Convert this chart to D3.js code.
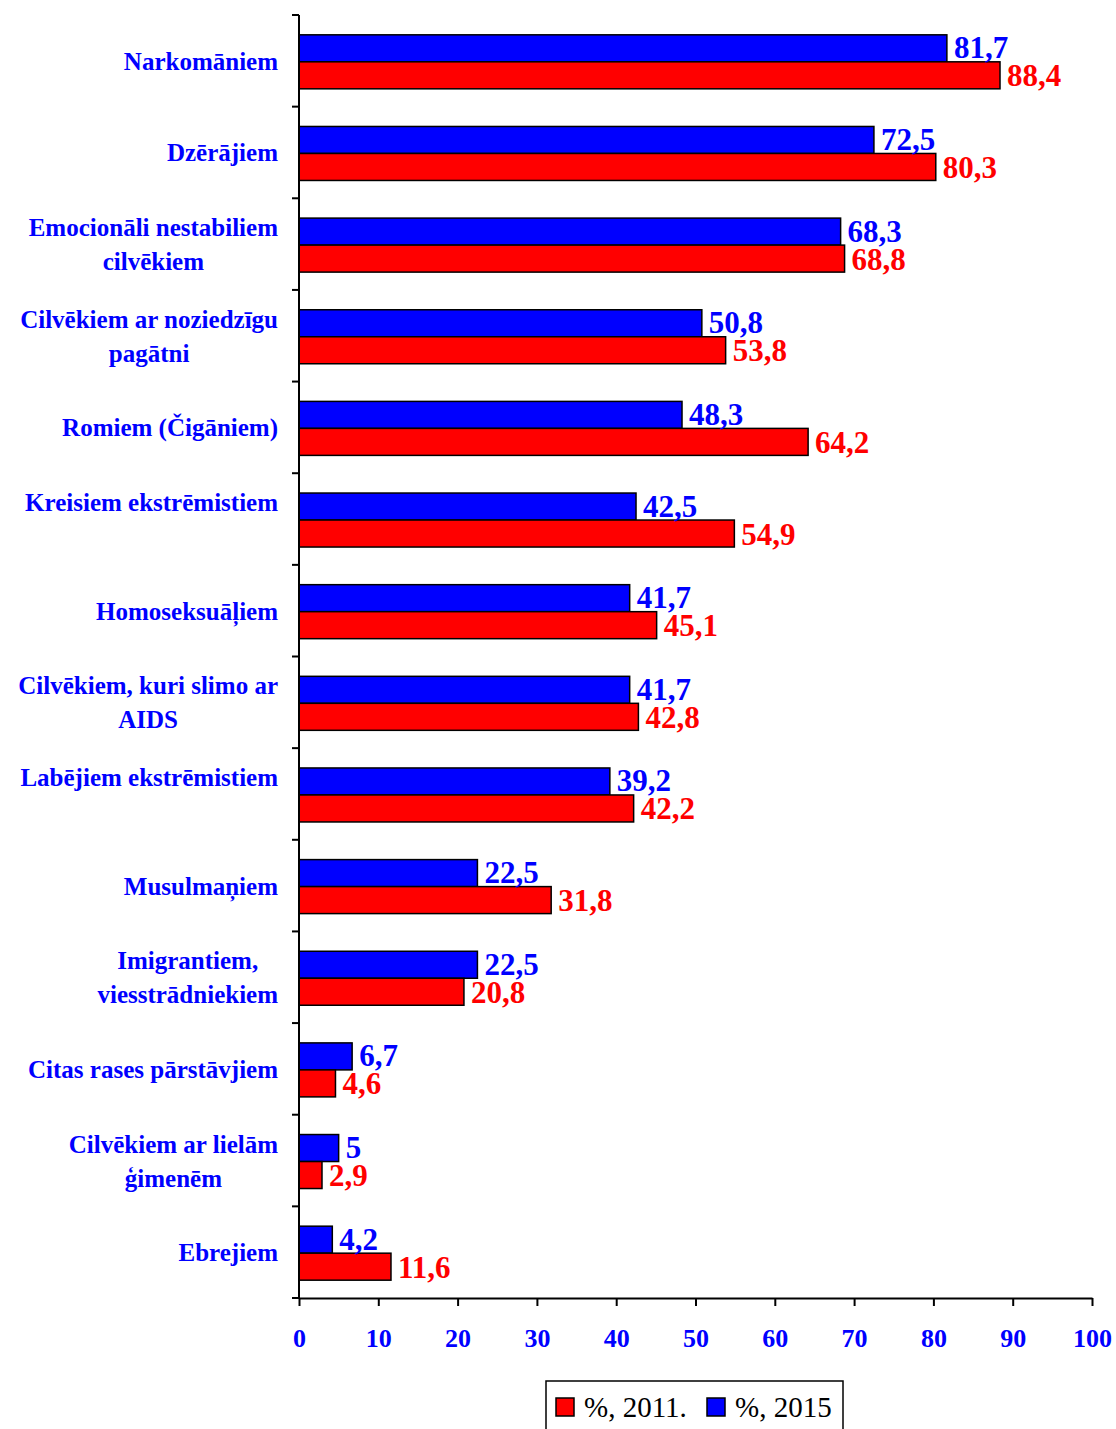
<!DOCTYPE html>
<html>
<head>
<meta charset="utf-8">
<script src="https://cdn.jsdelivr.net/npm/d3@7"></script>
<style>
  body { margin: 0; background: #fff; }
  svg { display: block; font-family: "Liberation Serif", "Times New Roman", serif; }
</style>
</head>
<body>
<svg id="chart" width="1116" height="1429"></svg>
<script>
// labels (\n = line break, as in the original sheet)
const categories = [
    "Narkomāniem",
    "Dzērājiem",
    "Emocionāli nestabiliem\ncilvēkiem",
    "Cilvēkiem ar noziedzīgu\npagātni",
    "Romiem (Čigāniem)",
    "Kreisiem ekstrēmistiem\n",
    "Homoseksuāļiem",
    "Cilvēkiem, kuri slimo ar\nAIDS",
    "Labējiem ekstrēmistiem\n",
    "Musulmaņiem",
    "Imigrantiem,\nviesstrādniekiem",
    "Citas rases pārstāvjiem",
    "Cilvēkiem ar lielām\nģimenēm",
    "Ebrejiem"
];
const values2015 = [81.7, 72.5, 68.3, 50.8, 48.3, 42.5, 41.7, 41.7, 39.2, 22.5, 22.5, 6.7, 5, 4.2];
const values2011 = [88.4, 80.3, 68.8, 53.8, 64.2, 54.9, 45.1, 42.8, 42.2, 31.8, 20.8, 4.6, 2.9, 11.6];
const seriesNames = ["%, 2011.", "%, 2015"];
const xTicks = [0, 10, 20, 30, 40, 50, 60, 70, 80, 90, 100];

const BLUE = "#0000ff";
const RED = "#ff0000";

const margin = { top: 15, left: 299, right: 24, bottom: 131 };
const width = 1116 - margin.left - margin.right;
const height = 1429 - margin.top - margin.bottom;

const svg = d3.select("#chart");
const g = svg.append("g").attr("transform", `translate(${margin.left},${margin.top})`);

const y = d3.scaleBand()
    .domain(d3.range(categories.length))
    .range([0, height]);

const x = d3.scaleLinear()
    .domain([0, 100])
    .range([0, width]);

const barH = 27;
const fmt = v => String(v).replace(".", ",");

const data = categories.map((c, i) => ({ i, label: c, v15: values2015[i], v11: values2011[i] }));

// bars (2015 above, 2011 below)
const grp = g.selectAll(".cat")
    .data(data)
    .join("g")
    .attr("class", "cat")
    .attr("transform", d => `translate(0,${y(d.i) + y.bandwidth() / 2 + 1})`);

grp.append("rect")
    .attr("x", 0)
    .attr("y", -barH)
    .attr("width", d => x(d.v15))
    .attr("height", barH)
    .attr("fill", BLUE)
    .attr("stroke", "#000")
    .attr("stroke-width", 1.5);

grp.append("rect")
    .attr("x", 0)
    .attr("y", 0)
    .attr("width", d => x(d.v11))
    .attr("height", barH)
    .attr("fill", RED)
    .attr("stroke", "#000")
    .attr("stroke-width", 1.5);

grp.append("text")
    .attr("x", d => x(d.v15) + 7)
    .attr("y", -barH / 2 + 10)
    .attr("fill", BLUE)
    .attr("font-size", 31)
    .attr("font-weight", "bold")
    .text(d => fmt(d.v15));

grp.append("text")
    .attr("x", d => x(d.v11) + 7)
    .attr("y", barH / 2 + 11)
    .attr("fill", RED)
    .attr("font-size", 31)
    .attr("font-weight", "bold")
    .text(d => fmt(d.v11));

// y axis: ticks on band boundaries
const yAxisG = g.append("g");
yAxisG.append("line")
    .attr("x1", 0).attr("x2", 0)
    .attr("y1", 0).attr("y2", height)
    .attr("stroke", "#000").attr("stroke-width", 2);
yAxisG.selectAll(".yt")
    .data(d3.range(categories.length + 1))
    .join("line")
    .attr("x1", -7).attr("x2", 0)
    .attr("y1", i => i < categories.length ? y(i) : height)
    .attr("y2", i => i < categories.length ? y(i) : height)
    .attr("stroke", "#000").attr("stroke-width", 2);

// category labels
const labelRight = -21;
const lineH = 34;
grp.each(function(d) {
    const lines = d.label.split("\n");
    const t = d3.select(this).append("text")
        .attr("fill", BLUE)
        .attr("font-size", 25)
        .attr("font-weight", "bold");
    const y0 = -(lines.length - 1) * lineH / 2 + 8;
    const spans = lines.map((ln, k) => t.append("tspan")
        .attr("y", y0 + k * lineH)
        .text(ln));
    if (lines.filter(l => l.length).length <= 1) {
        t.attr("text-anchor", "end");
        spans.forEach(s => s.attr("x", labelRight));
    } else {
        const w = d3.max(spans, s => s.node().getComputedTextLength());
        t.attr("text-anchor", "middle");
        spans.forEach(s => s.attr("x", labelRight - w / 2));
    }
});

// x axis
const xAxis = d3.axisBottom(x)
    .tickValues(xTicks)
    .tickSize(8)
    .tickSizeOuter(0)
    .tickPadding(23)
    .tickFormat(d3.format("d"));

const xg = g.append("g")
    .attr("transform", `translate(0,${height})`)
    .call(xAxis);
xg.select(".domain").attr("stroke", "#000").attr("stroke-width", 2);
xg.selectAll(".tick line").attr("stroke", "#000").attr("stroke-width", 2);
xg.selectAll(".tick text")
    .attr("fill", BLUE)
    .attr("font-size", 26)
    .attr("font-weight", "bold")
    .attr("font-family", "Liberation Serif, Times New Roman, serif");

// legend
const legend = svg.append("g").attr("transform", "translate(546,1381)");
legend.append("rect")
    .attr("x", 0).attr("y", 0)
    .attr("width", 297).attr("height", 60)
    .attr("fill", "#fff")
    .attr("stroke", "#000").attr("stroke-width", 1.5);
const legItems = [
    { name: seriesNames[0], color: RED, x: 10 },
    { name: seriesNames[1], color: BLUE, x: 161 }
];
const li = legend.selectAll(".li")
    .data(legItems)
    .join("g")
    .attr("transform", d => `translate(${d.x},17)`);
li.append("rect")
    .attr("width", 18).attr("height", 18)
    .attr("fill", d => d.color)
    .attr("stroke", "#000").attr("stroke-width", 1.5);
li.append("text")
    .attr("x", 28)
    .attr("y", 19)
    .attr("font-size", 29)
    .attr("fill", "#000")
    .text(d => d.name);
</script>
</body>
</html>
